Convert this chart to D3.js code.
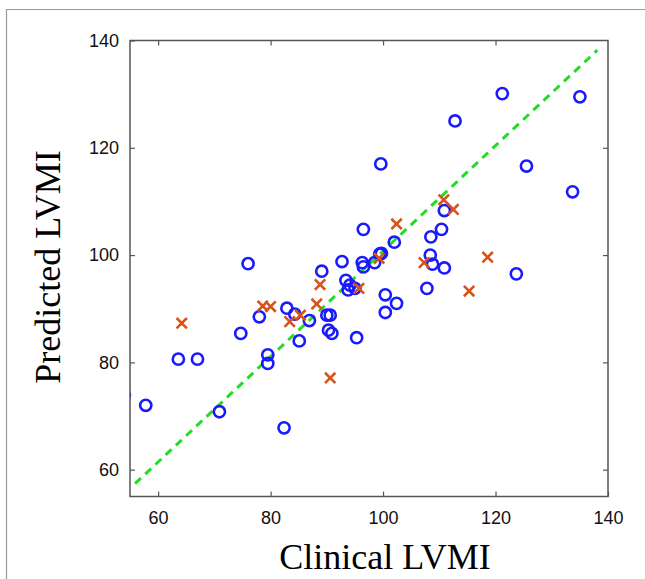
<!DOCTYPE html>
<html>
<head>
<meta charset="utf-8">
<script src="https://cdn.jsdelivr.net/npm/d3@7"></script>
<style>
  body { margin: 0; background: #fff; }
  svg { display: block; }
</style>
</head>
<body>
<div id="target"></div>
<script>
let width = 645,
  height = 579;

let margin = { top: 40.5, right: 37, bottom: 82.5, left: 130 };

// tick values
let xTicks = [60, 80, 100, 120, 140];
let yTicks = [60, 80, 100, 120, 140];

// blue circles: clinical, predicted
let circleX = [121.2, 135.0, 112.8, 99.6, 125.5, 133.7, 110.9, 96.5, 110.4, 108.5,
  102.0, 76.0, 92.7, 89.1, 96.3, 96.5, 98.5, 99.4, 99.7, 108.4,
  108.8, 110.9, 123.7, 93.4, 94.1, 93.8, 95.0, 100.4, 102.4, 100.4,
  107.8, 82.9, 84.3, 86.9, 85.1, 90.0, 90.6, 90.3, 90.9, 95.3,
  78.0, 74.7, 63.6, 67.0, 79.5, 79.5, 57.8, 70.9, 82.4, 54.0];
let circleY = [130.1, 129.5, 125.0, 117.0, 116.6, 111.8, 108.3, 104.8, 104.8, 103.4,
  102.4, 98.4, 98.8, 97.0, 98.6, 97.8, 98.6, 100.2, 100.3, 100.0,
  98.3, 97.6, 96.5, 95.3, 94.4, 93.5, 93.8, 92.6, 91.0, 89.3,
  93.8, 90.1, 89.0, 87.8, 84.0, 88.8, 88.8, 86.0, 85.4, 84.6,
  88.5, 85.4, 80.6, 80.6, 81.4, 79.8, 72.0, 70.8, 67.8, 73.9];

// orange crosses: clinical, predicted
let crossX = [102.4, 110.8, 112.5, 99.3, 107.3, 88.8, 95.7, 88.2, 85.3, 83.4,
  90.6, 64.2, 78.6, 80.0, 118.6, 115.3];
let crossY = [105.8, 110.3, 108.5, 99.4, 98.6, 94.5, 93.8, 90.9, 88.8, 87.6,
  77.1, 87.3, 90.5, 90.4, 99.6, 93.3];

// dashed reference line ends
let lineX = [55.9, 138.1];
let lineY = [57.4, 138.2];

let circles = circleX.map((d, i) => ({ x: d, y: circleY[i] }));
let crosses = crossX.map((d, i) => ({ x: d, y: crossY[i] }));

let svg = d3.select("#target").append("svg")
  .attr("width", width)
  .attr("height", height);

// outer frame of the figure
svg.append("path")
  .attr("d", "M6.5," + height + "V9.5H" + width)
  .attr("fill", "none")
  .attr("stroke", "#9a9a9a")
  .attr("stroke-width", 1.2);

let x = d3.scaleLinear()
  .domain([55, 140])
  .range([margin.left, width - margin.right]);

let y = d3.scaleLinear()
  .domain([55, 140])
  .range([height - margin.bottom, margin.top]);

svg.append("defs").append("clipPath")
  .attr("id", "plot-clip")
  .append("rect")
  .attr("x", x(55))
  .attr("y", y(140))
  .attr("width", x(140) - x(55))
  .attr("height", y(55) - y(140));

let plot = svg.append("g").attr("clip-path", "url(#plot-clip)");

// dashed reference line
plot.append("line")
  .attr("x1", x(lineX[0]))
  .attr("y1", y(lineY[0]))
  .attr("x2", x(lineX[1]))
  .attr("y2", y(lineY[1]))
  .attr("stroke", "#22dd22")
  .attr("stroke-width", 3)
  .attr("stroke-dasharray", "8,6");

plot.selectAll(".pt")
  .data(circles)
  .enter()
  .append("circle")
  .attr("class", "pt")
  .attr("cx", (d) => x(d.x))
  .attr("cy", (d) => y(d.y))
  .attr("r", 5.6)
  .attr("fill", "none")
  .attr("stroke", "#1a1aff")
  .attr("stroke-width", 2.6);

let s = 5.2;
plot.selectAll(".cross")
  .data(crosses)
  .enter()
  .append("path")
  .attr("class", "cross")
  .attr("d", (d) => {
    let cx = x(d.x), cy = y(d.y);
    return "M" + (cx - s) + "," + (cy - s) + "L" + (cx + s) + "," + (cy + s) +
      "M" + (cx - s) + "," + (cy + s) + "L" + (cx + s) + "," + (cy - s);
  })
  .attr("fill", "none")
  .attr("stroke", "#d95319")
  .attr("stroke-width", 2.6);

// axes, matlab style box with inward ticks
let tickStyle = (g) => {
  g.select(".domain").remove();
  g.selectAll(".tick line").attr("stroke", "#555").attr("stroke-width", 1.2);
  g.selectAll("text")
    .attr("fill", "#111")
    .style("font-family", "Arial, 'Liberation Sans', Helvetica, sans-serif")
    .style("font-size", "18px");
};

svg.append("g")
  .attr("transform", "translate(0," + y(55) + ")")
  .call(d3.axisBottom(x).tickValues(xTicks).tickSizeInner(-5).tickPadding(15))
  .call(tickStyle);

svg.append("g")
  .attr("transform", "translate(0," + y(140) + ")")
  .call(d3.axisTop(x).tickValues(xTicks.slice(0, 4)).tickSizeInner(-5).tickFormat(""))
  .call(tickStyle);

svg.append("g")
  .attr("transform", "translate(" + x(55) + ",0)")
  .call(d3.axisLeft(y).tickValues(yTicks).tickSizeInner(-5).tickPadding(11))
  .call(tickStyle);

svg.append("g")
  .attr("transform", "translate(" + x(140) + ",0)")
  .call(d3.axisRight(y).tickValues(yTicks.slice(0, 4)).tickSizeInner(-5).tickFormat(""))
  .call(tickStyle);

svg.append("rect")
  .attr("x", x(55))
  .attr("y", y(140))
  .attr("width", x(140) - x(55))
  .attr("height", y(55) - y(140))
  .attr("fill", "none")
  .attr("stroke", "#555")
  .attr("stroke-width", 1.5);

// axis titles
svg.append("text")
  .attr("x", 385)
  .attr("y", 569)
  .attr("text-anchor", "middle")
  .style("font-family", "'Liberation Serif', 'Times New Roman', serif")
  .style("font-size", "36px")
  .style("fill", "#000")
  .text("Clinical LVMI");

svg.append("text")
  .attr("transform", "translate(60,267) rotate(-90)")
  .attr("text-anchor", "middle")
  .style("font-family", "'Liberation Serif', 'Times New Roman', serif")
  .style("font-size", "36px")
  .style("fill", "#000")
  .text("Predicted LVMI");
</script>
</body>
</html>
